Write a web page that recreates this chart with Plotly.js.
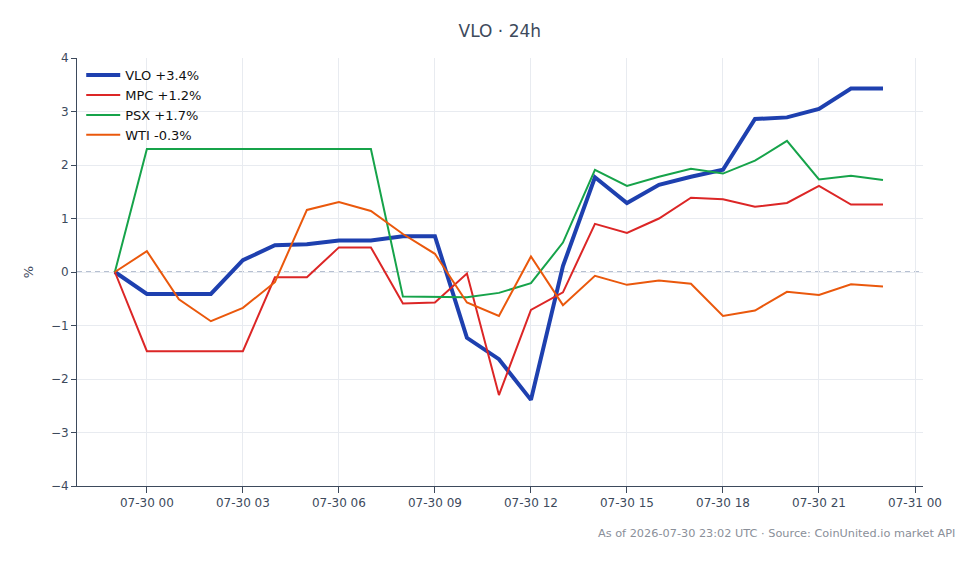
<!DOCTYPE html>
<html>
<head>
<meta charset="utf-8">
<script src="https://cdn.plot.ly/plotly-3.0.1.min.js"></script>
<style>html,body{margin:0;padding:0;background:#fff;}#chart{width:980px;height:564px;}</style>
</head>
<body>
<div id="chart"></div>
<script>
var times = ["2026-07-29 23:00","2026-07-30 00:00","2026-07-30 01:00","2026-07-30 02:00","2026-07-30 03:00","2026-07-30 04:00","2026-07-30 05:00","2026-07-30 06:00","2026-07-30 07:00","2026-07-30 08:00","2026-07-30 09:00","2026-07-30 10:00","2026-07-30 11:00","2026-07-30 12:00","2026-07-30 13:00","2026-07-30 14:00","2026-07-30 15:00","2026-07-30 16:00","2026-07-30 17:00","2026-07-30 18:00","2026-07-30 19:00","2026-07-30 20:00","2026-07-30 21:00","2026-07-30 22:00","2026-07-30 23:00"];
var vlo = [0,-0.41,-0.41,-0.41,0.22,0.50,0.52,0.59,0.59,0.67,0.67,-1.23,-1.63,-2.39,0.11,1.77,1.29,1.63,1.78,1.91,2.86,2.89,3.05,3.43,3.43];
var mpc = [0,-1.48,-1.48,-1.48,-1.48,-0.10,-0.10,0.46,0.46,-0.59,-0.57,-0.03,-2.30,-0.71,-0.38,0.90,0.73,1.00,1.39,1.36,1.22,1.29,1.61,1.26,1.26];
var psx = [0,2.30,2.30,2.30,2.30,2.30,2.30,2.30,2.30,-0.46,-0.46,-0.47,-0.39,-0.21,0.55,1.91,1.61,1.78,1.93,1.84,2.08,2.45,1.73,1.80,1.72];
var wti = [0,0.39,-0.51,-0.92,-0.67,-0.19,1.16,1.31,1.14,0.71,0.34,-0.57,-0.82,0.29,-0.62,-0.07,-0.24,-0.16,-0.22,-0.82,-0.72,-0.37,-0.43,-0.23,-0.27];
var names = ["VLO +3.4%","MPC +1.2%","PSX +1.7%","WTI -0.3%"];
var titleText = "VLO · 24h";
var footnote = "As of 2026-07-30 23:02 UTC · Source: CoinUnited.io market API";

var traces = [
  {x: times, y: vlo, name: names[0], mode: "lines", line: {color: "#1e40af", width: 4}},
  {x: times, y: mpc, name: names[1], mode: "lines", line: {color: "#dc2626", width: 2}},
  {x: times, y: psx, name: names[2], mode: "lines", line: {color: "#16a34a", width: 2}},
  {x: times, y: wti, name: names[3], mode: "lines", line: {color: "#ea580c", width: 2}}
];
var layout = {
  width: 980, height: 564,
  margin: {l: 77, r: 57, t: 58, b: 78},
  paper_bgcolor: "#fff", plot_bgcolor: "#fff",
  font: {family: "DejaVu Sans, sans-serif", size: 12, color: "#444"},
  title: {text: titleText, x: 0.51, xanchor: "center", y: 0.945, yanchor: "middle", font: {size: 17, color: "#3d4a5c"}},
  xaxis: {
    type: "date",
    range: ["2026-07-29 21:49", "2026-07-31 00:15"],
    tickformat: "%m-%d %H", dtick: 3*3600*1000, tick0: "2026-07-30 00:00",
    showline: true, linecolor: "#3d4a5c", linewidth: 1,
    ticks: "outside", ticklen: 6, tickcolor: "#3d4a5c",
    showgrid: true, gridcolor: "#e8ebf0", zeroline: false,
    tickfont: {size: 12, color: "#3d4a5c"}
  },
  yaxis: {
    range: [-4, 4], dtick: 1,
    title: {text: "%", font: {size: 13, color: "#3d4a5c"}, standoff: 14},
    showline: true, linecolor: "#3d4a5c", linewidth: 1,
    ticks: "outside", ticklen: 5, tickcolor: "#3d4a5c",
    showgrid: true, gridcolor: "#e8ebf0", zeroline: false,
    tickfont: {size: 12, color: "#3d4a5c"}
  },
  legend: {x: 0.005, y: 0.995, xanchor: "left", yanchor: "top", bgcolor: "rgba(255,255,255,0)", font: {size: 13, color: "#111"}, tracegroupgap: 0, itemwidth: 34},
  shapes: [{type: "line", xref: "paper", x0: 0, x1: 1, yref: "y", y0: 0, y1: 0, line: {color: "#6f82a3", width: 1.2, dash: "5px,4px"}, layer: "below"}],
  annotations: [{text: footnote, xref: "paper", yref: "paper", x: 1.04, y: -0.11, xanchor: "right", yanchor: "middle", showarrow: false, font: {size: 11.3, color: "#8a8f99"}}]
};
Plotly.newPlot("chart", traces, layout, {displayModeBar: false});
</script>
</body>
</html>
